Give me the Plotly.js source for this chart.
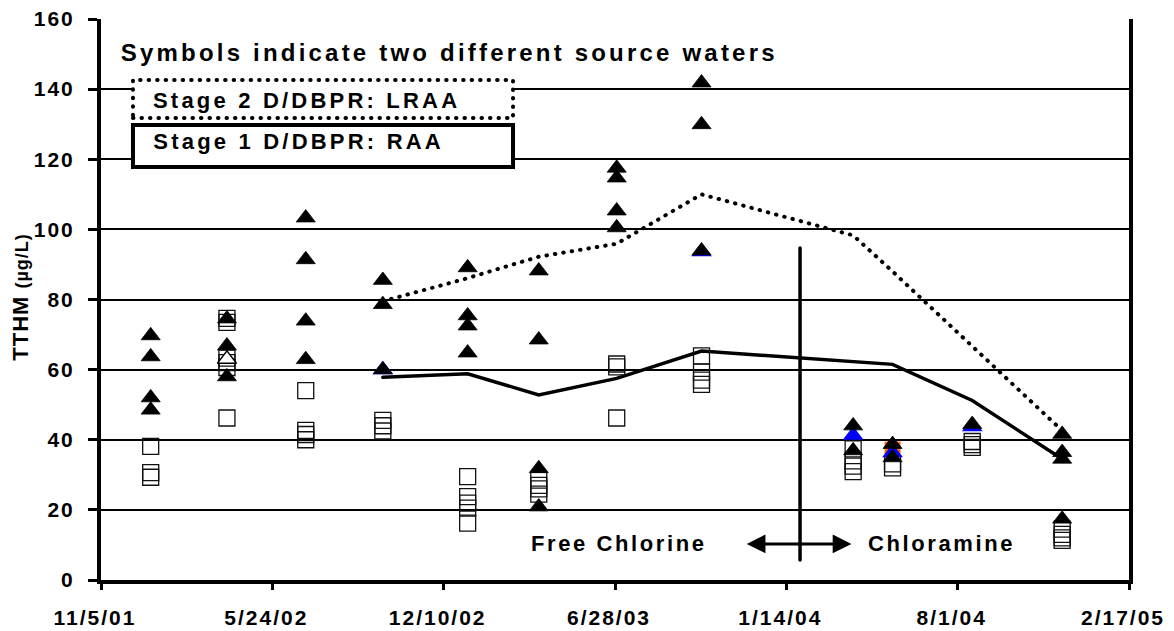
<!DOCTYPE html>
<html><head><meta charset="utf-8">
<script src="https://cdn.plot.ly/plotly-3.0.1.min.js"></script>
<style>
body{margin:0;background:#fff}
.xtick text, .ytick text{letter-spacing:2px}
.annotation-text{letter-spacing:2.6px}
.annotation[data-index="0"] .annotation-text{letter-spacing:3.2px}
.annotation[data-index="1"] .annotation-text, .annotation[data-index="2"] .annotation-text{letter-spacing:3.2px}
.annotation[data-index="5"] .annotation-text{letter-spacing:1px}
.scatterlayer .js-line{stroke-linecap:round}
.shapelayer path{stroke-linecap:round}
</style></head><body>
<div id="chart" style="width:1174px;height:631px"></div>
<script>
// ---- data ----
const sampleDates = ['2002-01-02','2002-04-01','2002-07-02','2002-09-30','2003-01-07','2003-03-31',
                     '2003-06-30','2003-10-07','2004-04-01','2004-05-17','2004-08-18','2004-12-01'];
// Source water A (filled triangles), TTHM ug/L per sampling date
const sourceA = [[69.7,63.7,52,48.5],[74.5,66.8,58],[103.3,91.4,73.9,62.9],[85.5,78.6,60],
                 [89.1,75.4,72.5,64.8],[88.2,68.5,31.8,20.9],[117.5,114.7,105.3,100.5],[141.8,129.9,93.9],
                 [44,36.9],[38.7,34.9],[44.4],[41.6,36.4,34.5,17.4]];
// Source water B (open squares)
const sourceB = [[38.1,30.6,29.3],[74.6,73.5,63.3,62,60.6,46.2],[54,42.7,41.5,40],[45.5,44,42.5],
                 [29.5,23.8,21.9,20.5,16.2],[28.5,27,26,24.5],[61.6,60.8,46.2],[63.9,59.3,57,55.8],
                 [37.4,34,32.5,30.9],[33.1,32],[39.5,38.6,37.8],[14.5,13,12,11.3]];
// extra coloured points partly hidden behind the triangles
const blueDates = ['2002-09-30','2003-10-07','2004-04-01','2004-05-17','2004-08-18'];
const blueValues = [60,93.6,41.3,36.3,43.7];
const openTriDates = ['2002-04-01'];
const openTriValues = [63];
const orangeDates = ['2004-05-17'];
const orangeValues = [37.2];
// running annual averages
const avgDates = ['2002-09-30','2003-01-07','2003-03-31','2003-06-30','2003-10-07','2004-04-01','2004-05-17','2004-08-18','2004-12-01'];
const lraa = [79.5,86.1,92.2,95.9,110,98.3,88,66.5,42.6];
const raa  = [57.8,58.8,52.8,57.5,65.3,62.3,61.5,51.2,34.5];
// axis
const xStart = '2001-11-05', xEnd = '2005-02-17';
const tickStepDays = 200;
const yMax = 160, yStep = 20;
// annotations
const switchDate = '2004-01-30';
const arrowLeft = '2003-11-27', arrowRight = '2004-03-30';

function flatten(groups){
  const x=[], y=[];
  groups.forEach((vals,i)=>vals.forEach(v=>{x.push(sampleDates[i]); y.push(v);}));
  return {x,y};
}
const A = flatten(sourceA), B = flatten(sourceB);
const F = 'Liberation Sans, Arial, sans-serif';

const traces = [
  {x:avgDates, y:lraa, type:'scatter', mode:'lines', line:{color:'#000', width:4, dash:'0.5px,8px'}, hoverinfo:'skip'},
  {x:avgDates, y:raa, type:'scatter', mode:'lines', line:{color:'#000', width:3.5}, hoverinfo:'skip'},
  {x:B.x, y:B.y, type:'scatter', mode:'markers', marker:{symbol:'square', size:16, color:'rgba(255,255,255,0)', line:{color:'#111', width:1.3}}},
  {x:orangeDates, y:orangeValues, type:'scatter', mode:'markers', marker:{symbol:'square', size:16, color:'#ff6a00', line:{width:0}}},
  {x:openTriDates, y:openTriValues, type:'scatter', mode:'markers', marker:{symbol:'triangle-up', size:16.5, color:'#fff', line:{color:'#000', width:1.5}}},
  {x:blueDates, y:blueValues, type:'scatter', mode:'markers', marker:{symbol:'triangle-up', size:18, color:'#0000ff', line:{width:0}}},
  {x:A.x, y:A.y, type:'scatter', mode:'markers', marker:{symbol:'triangle-up', size:16.5, color:'#000', line:{color:'#000', width:0.8}}}
];

const layout = {
  width:1174, height:631,
  margin:{l:101, r:45, t:19, b:51},
  paper_bgcolor:'#fff', plot_bgcolor:'#fff',
  showlegend:false,
  xaxis:{type:'date', range:[xStart, xEnd], tick0:xStart, dtick:tickStepDays*86400000,
         tickformat:'%-m/%-d/%y', showgrid:false, zeroline:false,
         showline:true, linecolor:'#000', linewidth:4,
         ticks:'outside', ticklen:6, tickwidth:3, tickcolor:'#000', ticklabelstandoff:10, ticklabelshift:-6,
         tickfont:{family:F, size:21, color:'#000', weight:700}},
  yaxis:{range:[0,yMax], dtick:yStep, tick0:0, showgrid:true, gridcolor:'#000', gridwidth:2,
         zeroline:false, showline:true, linecolor:'#000', linewidth:4, mirror:true,
         ticks:'outside', ticklen:9, tickwidth:3, tickcolor:'#000', ticklabelstandoff:9,
         tickfont:{family:F, size:21, color:'#000', weight:700}},
  shapes:[
    {type:'rect', xref:'paper', yref:'paper', x0:0.0311, x1:0.4008, y0:0.8235, y1:0.8913,
     fillcolor:'#fff', line:{color:'#000', width:4, dash:'0.5px,8px'}, layer:'above'},
    {type:'rect', xref:'paper', yref:'paper', x0:0.0311, x1:0.4008, y0:0.7362, y1:0.8111,
     fillcolor:'#fff', line:{color:'#000', width:4}, layer:'above'},
    {type:'line', xref:'x', yref:'y', x0:switchDate, x1:switchDate, y0:5.7, y1:94.7,
     line:{color:'#000', width:3.5}, layer:'above'}
  ],
  annotations:[
    {xref:'paper', yref:'paper', x:0.030, y:0.9394, xanchor:'left', yanchor:'middle', showarrow:false,
     text:'Symbols indicate two different source waters', font:{family:F, size:24, color:'#000', weight:700}},
    {xref:'paper', yref:'paper', x:0.0545, y:0.8556, xanchor:'left', yanchor:'middle', showarrow:false,
     text:'Stage 2 D/DBPR: LRAA', font:{family:F, size:22, color:'#000', weight:700}},
    {xref:'paper', yref:'paper', x:0.0545, y:0.7813, xanchor:'left', yanchor:'middle', showarrow:false,
     text:'Stage 1 D/DBPR: RAA', font:{family:F, size:22, color:'#000', weight:700}},
    {xref:'x', yref:'y', x:'2003-07-03', y:10.5, xanchor:'center', yanchor:'middle', showarrow:false,
     text:'Free Chlorine', font:{family:F, size:22, color:'#000', weight:700}},
    {xref:'x', yref:'y', x:'2004-04-16', y:10.5, xanchor:'left', yanchor:'middle', showarrow:false,
     text:'Chloramine', font:{family:F, size:22, color:'#000', weight:700}},
    {xref:'paper', yref:'paper', x:-0.078, y:0.505, xanchor:'center', yanchor:'middle', showarrow:false,
     textangle:-90, text:'TTHM <span style="font-size:18px">(µg/L)</span>',
     font:{family:F, size:22, color:'#000', weight:700}},
    {xref:'x', yref:'y', x:arrowRight, y:10.3, axref:'x', ayref:'y', ax:arrowLeft, ay:10.3,
     text:'', showarrow:true, arrowhead:2, startarrowhead:2, arrowside:'end+start',
     arrowsize:1.25, startarrowsize:1.25, arrowwidth:3, arrowcolor:'#000', standoff:0, startstandoff:0}
  ]
};
Plotly.newPlot('chart', traces, layout, {displayModeBar:false, staticPlot:true});
</script></body></html>
